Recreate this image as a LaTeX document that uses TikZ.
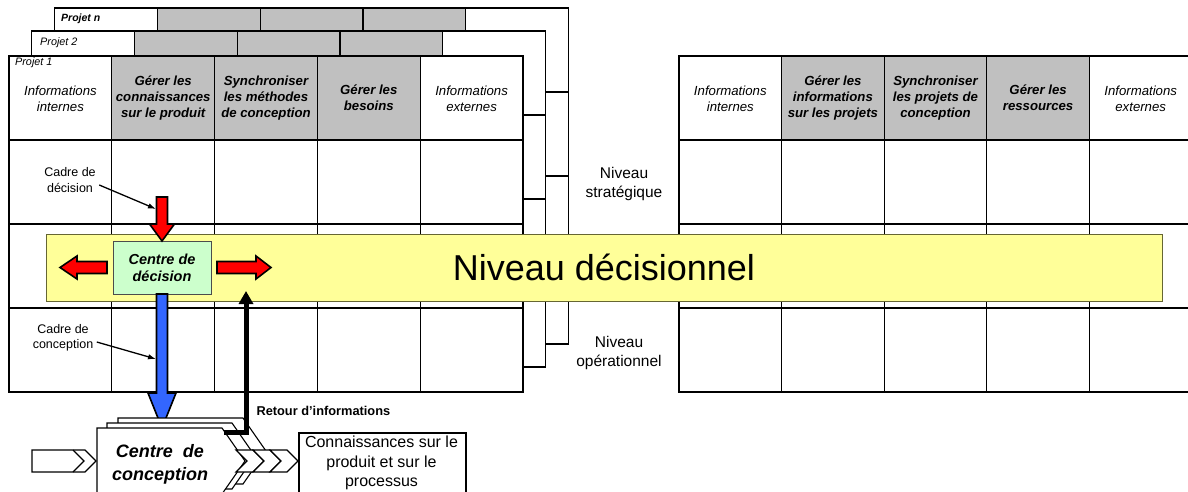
\documentclass[tikz,border=0pt]{standalone}
\usepackage{fontspec}
\setmainfont{Liberation Sans}
\usetikzlibrary{arrows.meta}
\definecolor{hdrgray}{HTML}{C0C0C0}
\definecolor{bandyellow}{HTML}{FFFF99}
\definecolor{bandline}{HTML}{666633}
\definecolor{decgreen}{HTML}{CCFFCC}
\definecolor{arrowblue}{HTML}{3366FF}
\definecolor{arrowred}{HTML}{FF0000}
\newcommand\projgrid[4]{%
  \foreach \c in {0,...,4}{%
    \foreach \r in {0,...,3}{%
      \node[cell, minimum width=#4pt] (#1-\c-\r) at ({#2+\c*#4},{#3+\r*84}) {};
    }%
  }%
  \foreach \c in {1,2,3}{%
    \node[cell, minimum width=#4pt, fill=hdrgray] (#1-h\c) at ({#2+\c*#4},#3) {};
  }%
}
\begin{document}
\begin{tikzpicture}[x=1pt,y=-1pt,
  cell/.style={draw=black, line width=1.2pt, fill=white, minimum height=84pt, inner sep=0pt, outer sep=0pt, anchor=north west},
  hdrit/.style={font=\fontsize{13.2}{16}\selectfont\itshape, align=center},
  hdrbf/.style={font=\fontsize{13.2}{16}\selectfont\bfseries\itshape, align=center},
  projlbl/.style={font=\fontsize{10.8}{12}\selectfont\itshape, anchor=west, inner sep=0pt},
  niv/.style={font=\fontsize{15.5}{19.5}\selectfont, align=center},
  small/.style={font=\fontsize{12.5}{15.5}\selectfont, align=center},
  redarrow/.style={draw=black, line width=1.6pt, fill=arrowred, line join=miter},
  bluearrow/.style={draw=black, line width=1.6pt, fill=arrowblue, line join=miter},
  pointer/.style={draw=black, line width=1.3pt, -{Latex[length=8pt,width=5.5pt]}},
  ccshape/.style={draw=black, line width=1.1pt, fill=white, line join=miter},
  chev/.style={draw=black, line width=1.1pt, fill=white, line join=miter},
]
\useasboundingbox (0,0) rectangle (1188,492);

% stacked project tables
\projgrid{pn}{54.5}{8}{102.8}
\projgrid{pd}{31.5}{31}{102.8}
\projgrid{pa}{9}{56}{102.8}
\node[projlbl, font=\fontsize{10.5}{12}\selectfont\bfseries\itshape] (lbln) at (61,19) {Projet n};
\node[projlbl] (lbl2) at (40,43) {Projet 2};
\node[projlbl] (lbl1) at (15,63) {Projet 1};

\node[hdrit] (pa-t0) at ([yshift=-1pt]pa-0-0.center) {Informations\\internes};
\node[hdrbf] (pa-t1) at (pa-h1.center) {Gérer les\\connaissances\\sur le produit};
\node[hdrbf] (pa-t2) at (pa-h2.center) {Synchroniser\\les méthodes\\de conception};
\node[hdrbf] (pa-t3) at (pa-h3.center) {Gérer les\\besoins};
\node[hdrit] (pa-t4) at ([yshift=-1pt]pa-4-0.center) {Informations\\externes};

% right table
\projgrid{pr}{679}{56}{102.6}
\node[hdrit] (pr-t0) at ([yshift=-1pt]pr-0-0.center) {Informations\\internes};
\node[hdrbf] (pr-t1) at (pr-h1.center) {Gérer les\\informations\\sur les projets};
\node[hdrbf] (pr-t2) at (pr-h2.center) {Synchroniser\\les projets de\\conception};
\node[hdrbf] (pr-t3) at (pr-h3.center) {Gérer les\\ressources};
\node[hdrit] (pr-t4) at ([yshift=-1pt]pr-4-0.center) {Informations\\externes};

% level labels
\node[niv] (strat) at (624,184) {Niveau\\stratégique};
\node[niv] (oper) at (619,353) {Niveau\\opérationnel};

% decision band
\node[draw=bandline, line width=0.8pt, fill=bandyellow, minimum width=1116pt, minimum height=67pt, inner sep=0pt,
      font=\fontsize{36}{40}\selectfont] (band) at (604,267.5) {Niveau décisionnel};
\node[draw=black!70, line width=0.9pt, fill=decgreen, minimum width=98pt, minimum height=53pt, inner sep=0pt,
      align=center, font=\fontsize{14.5}{17}\selectfont\bfseries\itshape] (cdec) at (162,267.5) {Centre de\\décision};

% red arrows
\draw[redarrow] (156.5,197) -- (167.5,197) -- (167.5,224) -- (174.5,224) -- (162,241) -- (149.5,224) -- (156.5,224) -- cycle;
\draw[redarrow] (107,261.5) -- (77,261.5) -- (77,256) -- (60,267.5) -- (77,279) -- (77,273.5) -- (107,273.5) -- cycle;
\draw[redarrow] (217,261.5) -- (256,261.5) -- (256,256) -- (271,267.5) -- (256,279) -- (256,273.5) -- (217,273.5) -- cycle;

% blue arrow
\draw[bluearrow] (156.5,294) -- (167.5,294) -- (167.5,393) -- (176,393) -- (162,428) -- (148,393) -- (156.5,393) -- cycle;

% frame labels with pointers
\node[small] (cadredec) at (70,180) {Cadre de\\décision};
\coordinate (cdtip) at (156,209);
\draw[pointer] ([yshift=-5pt]cadredec.east) -- (cdtip);
\node[small] (cadreconc) at (63,338) {Cadre de\\conception};
\coordinate (cctip) at (156,359);
\draw[pointer] ([yshift=-4pt]cadreconc.east) -- (cctip);

% centre de conception (stacked)
\draw[ccshape] (118,418) -- (243,418) -- (266,451) -- (243,484) -- (118,484) -- cycle;
\draw[ccshape] (107,423) -- (232,423) -- (255,456) -- (232,489) -- (107,489) -- cycle;
\draw[ccshape] (97,428) -- (222,428) -- (245,461) -- (222,494) -- (97,494) -- cycle;
\node[align=center, font=\fontsize{18}{23}\selectfont\bfseries\itshape] (cconc) at (160,464) {Centre~~de\\conception};

% chevrons
\draw[chev] (32,450) -- (85,450) -- (96,461) -- (85,472) -- (32,472) -- cycle;
\draw[line width=1.1pt] (73,450) -- (84,461) -- (73,472);
\foreach \a in {236,253,270}{%
  \draw[chev] (\a,450) -- ++(17,0) -- ++(11,11) -- ++(-11,11) -- ++(-17,0) -- ++(11,-11) -- cycle;
}

% knowledge box
\node[draw=black, line width=2.2pt, fill=white, minimum width=167pt, minimum height=72pt, inner sep=0pt, anchor=north west] (kbox) at (298,432) {};
\node[align=center, font=\fontsize{16}{19.5}\selectfont] (ktxt) at (381.5,463) {Connaissances sur le\\produit et sur le\\processus};

% feedback arrow
\coordinate (retstart) at (224,432);
\coordinate (retcorner) at (246,432);
\draw[line width=5pt, -{Triangle[length=13pt,width=14pt]}] (retstart) -- (retcorner) -- (246,291);
\node[anchor=west, font=\fontsize{12.8}{14}\selectfont\bfseries] (retour) at (253,411) {Retour d’informations};
\end{tikzpicture}
\end{document}
